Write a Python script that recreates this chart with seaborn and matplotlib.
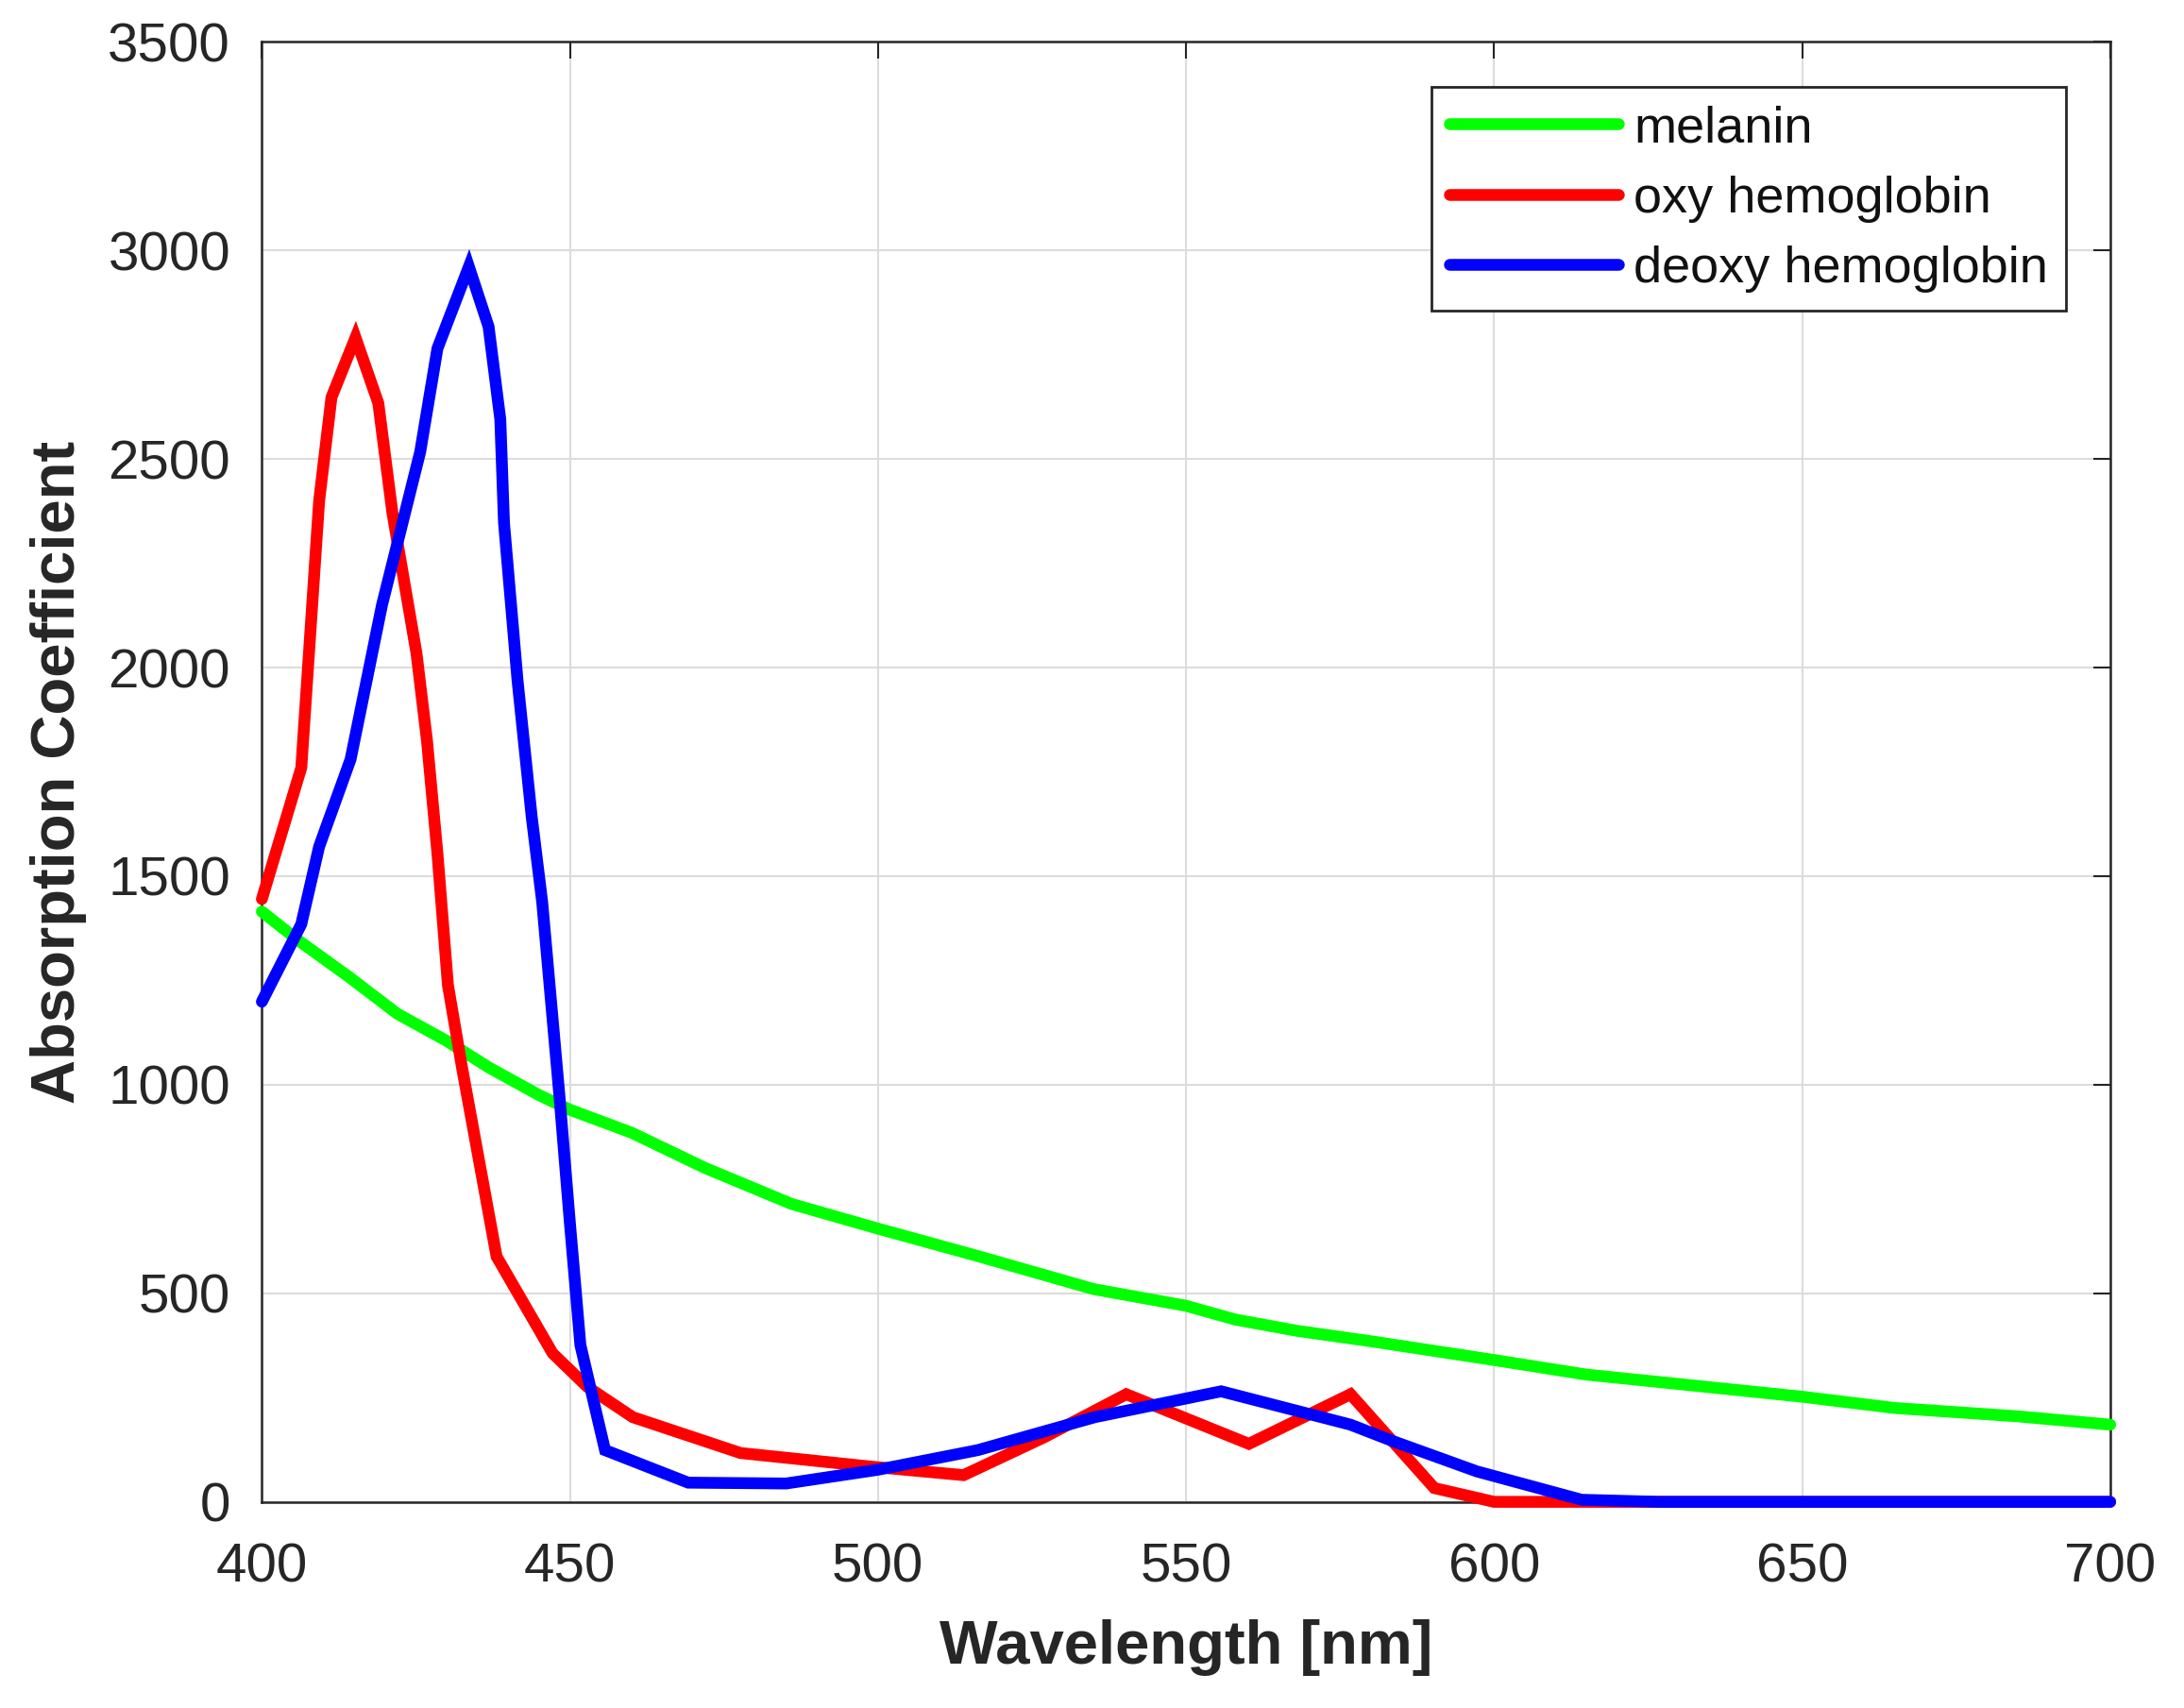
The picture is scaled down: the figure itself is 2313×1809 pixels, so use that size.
import numpy as np
import pandas as pd
import matplotlib.pyplot as plt
import seaborn as sns

# values
wl_melanin = [400, 406, 414, 422, 430, 437, 445, 450, 460, 472, 486, 500, 516, 535,
              550, 558, 568, 580, 600, 615, 625, 650, 665, 685, 700]
melanin = [1415, 1345, 1260, 1170, 1105, 1040, 975, 940, 885, 800, 714, 655, 590, 510,
           470, 437, 410, 385, 340, 305, 290, 252, 225, 205, 185]

wl_oxy = [400, 406.4, 409.3, 411.3, 415.2, 418.9, 421.2, 425.1, 426.8, 428.5, 430.2, 432.5,
          438.1, 447.2, 452.8, 460.2, 477.7, 499.2, 513.9, 527, 540.3, 560.2, 576.7, 590.3,
          600, 700]
oxy = [1445, 1760, 2400, 2648, 2791, 2634, 2370, 2034, 1825, 1554, 1239, 1040,
       588, 356, 276, 203, 117, 84, 64, 155, 258, 139, 258, 33,
       0, 0]

wl_deoxy = [400, 406.4, 409.3, 414.4, 419.5, 425.7, 428.5, 433.6, 436.8, 438.7, 439.3,
            441.5, 443.8, 445.5, 448.3, 450, 451.7, 455.7, 469.2, 485.1, 500, 516.2,
            535.2, 555.7, 576.7, 583.5, 597.2, 614.2, 626.7, 700]
deoxy = [1199, 1385, 1571, 1780, 2150, 2517, 2765, 2961, 2817, 2595, 2347,
         1969, 1642, 1438, 973, 668, 376, 124, 46, 44, 77, 124,
         203, 265, 185, 146, 73, 5, 0, 0]

series_names = ['melanin', 'oxy hemoglobin', 'deoxy hemoglobin']
colors = {'melanin': '#00ff00', 'oxy hemoglobin': '#ff0000', 'deoxy hemoglobin': '#0000ff'}

df = pd.concat([
    pd.DataFrame({'Wavelength': wl_melanin, 'Absorption': melanin, 'Series': 'melanin'}),
    pd.DataFrame({'Wavelength': wl_oxy, 'Absorption': oxy, 'Series': 'oxy hemoglobin'}),
    pd.DataFrame({'Wavelength': wl_deoxy, 'Absorption': deoxy, 'Series': 'deoxy hemoglobin'}),
], ignore_index=True)

sns.set_style('white')
plt.rcParams['font.family'] = ['Liberation Sans', 'DejaVu Sans']

fig, ax = plt.subplots(figsize=(23.13, 18.09), dpi=100)
fig.subplots_adjust(left=0.1199, right=0.9662, bottom=0.1207, top=0.9755)

lw = 9
sns.lineplot(data=df, x='Wavelength', y='Absorption', hue='Series', hue_order=series_names,
             palette=colors, estimator=None, sort=False, linewidth=lw, ax=ax)
for line in ax.lines:
    line.set_clip_on(False)
    line.set_zorder(5)
    line.set_solid_joinstyle('miter')

ax.set_xlim(400, 700)
ax.set_ylim(0, 3500)
ax.set_xticks(np.arange(400, 701, 50))
ax.set_yticks(np.arange(0, 3501, 500))
ax.grid(True, color='#dcdcdc', linewidth=1.5)
ax.set_axisbelow(True)
ax.tick_params(direction='in', length=13, width=1.5, top=True, right=True,
               labelsize=42, labelcolor='#262626', color='#262626', pad=24)
ax.tick_params(axis='x', pad=31)
for sp in ax.spines.values():
    sp.set_visible(True)
    sp.set_color('#262626')
    sp.set_linewidth(1.8)

ax.set_xlabel('Wavelength [nm]', fontsize=47, fontweight='bold', color='#262626', labelpad=20)
ax.set_ylabel('Absorption Coefficient', fontsize=47, fontweight='bold', color='#262626', labelpad=16)

handles, labels = ax.get_legend_handles_labels()
leg = ax.legend(handles, labels, loc='upper right', bbox_to_anchor=(0.976, 0.969),
                borderaxespad=0, fontsize=39, frameon=True, fancybox=False,
                framealpha=1, edgecolor='#262626', handlelength=3.3,
                handletextpad=0.3, labelspacing=0.45, borderpad=0.35)
leg.get_frame().set_linewidth(2)
for h in leg.get_lines():
    h.set_linewidth(lw)
for t in leg.get_texts():
    t.set_color('#111111')

fig.savefig('out.png', dpi=100)
